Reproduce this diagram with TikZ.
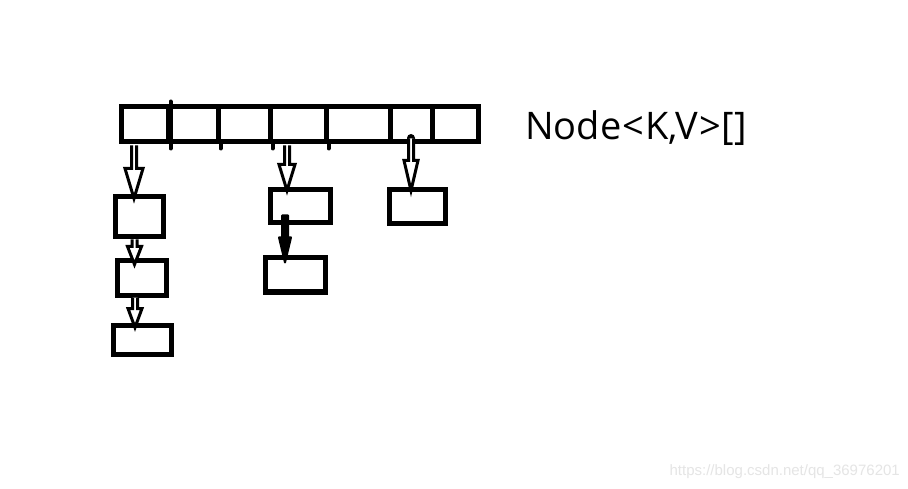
\documentclass[tikz,border=0pt]{standalone}
\usepackage{fontspec}
\setmainfont{Open Sans}
\newfontfamily\wmfont{Liberation Sans}
\usetikzlibrary{calc}
\begin{document}
\begin{tikzpicture}[x=1pt,y=-1pt,
  cell/.style={draw,line width=5pt,inner sep=0pt,minimum height=35pt},
  box/.style={draw,line width=5pt,inner sep=0pt},
  harrow/.style 2 args={draw,line width=3pt,fill=white,line join=miter,
    to path={let \p1=(\tikztostart),\p2=(\tikztotarget) in
      (\x1-2.5pt,\y1) -- (\x1-2.5pt,\y2+#1) -- (\x1-#2,\y2+#1) -- (\x1,\y2)
      -- (\x1+#2,\y2+#1) -- (\x1+2.5pt,\y2+#1) -- (\x1+2.5pt,\y1)}},
  farrow/.style 2 args={draw,line width=2pt,fill=black,line join=round,
    to path={let \p1=(\tikztostart),\p2=(\tikztotarget) in
      (\x1-3pt,\y1) -- (\x1-3pt,\y2+#1) -- (\x1-#2,\y2+#1) -- (\x1,\y2)
      -- (\x1+#2,\y2+#1) -- (\x1+3pt,\y2+#1) -- (\x1+3pt,\y1) -- cycle}},
  tick/.style={line width=4pt,line cap=round}
]
\useasboundingbox[fill=white] (0,0) rectangle (908,489);
% array cells
\node[cell,minimum width=47pt] (c1) at (144.5,124.5) {};
\node[cell,minimum width=50pt] (c2) at (193,124.5) {};
\node[cell,minimum width=52pt] (c3) at (244,124.5) {};
\node[cell,minimum width=56pt] (c4) at (298,124.5) {};
\node[cell,minimum width=64pt] (c5) at (358,124.5) {};
\node[cell,minimum width=42pt] (c6) at (411,124.5) {};
\node[cell,minimum width=46pt] (c7) at (455,124.5) {};
% divider overshoots
\draw[tick] (c1.north east) ++(0,-3) -- (c1.south east) -- ++(0,4);
\draw[tick] (c2.south east) -- ++(0,4);
\draw[tick] (c3.south east) -- ++(0,4);
\draw[tick] (c4.south east) -- ++(0,4);
% buckets
\node[box,minimum width=48pt,minimum height=40pt] (b1) at (139,217) {};
\node[box,minimum width=49pt,minimum height=34pt] (b2) at (141.5,278) {};
\node[box,minimum width=58pt,minimum height=29pt] (b3) at (142,339.5) {};
\node[box,minimum width=60pt,minimum height=33pt] (b4) at (300,206.5) {};
\node[box,minimum width=60pt,minimum height=34pt] (b5) at (295,275) {};
\node[box,minimum width=56pt,minimum height=34pt] (b6) at (417,207) {};
% arrows
\draw[harrow={30pt}{9pt}] ([xshift=-10.5pt,yshift=-1pt]c1.south) to ([yshift=-4pt]b1.north);
\draw[harrow={26pt}{8pt}] ([xshift=-11pt,yshift=-1pt]c4.south) to ([yshift=-3pt]b4.north);
\fill (411,138) circle (4pt);
\draw[harrow={30pt}{7pt}] ([yshift=6pt]c6.south) to ([yshift=-3pt]b6.north);
\draw[harrow={18pt}{7pt}] ([xshift=-4.5pt]b1.south) to ([yshift=-6pt]b2.north);
\draw[harrow={19pt}{7pt}] ([xshift=-6.5pt]b2.south) to ([yshift=-5pt]b3.north);
\draw[farrow={25pt}{6pt}] ([xshift=-15pt,yshift=10pt]b4.south) to ([yshift=-7pt]b5.north);
% label
\node[anchor=base west,inner sep=0pt,font=\fontsize{38}{40}\selectfont] (lbl) at (525,140) {Node\kern1pt<\kern1pt K,V\kern1pt>\kern1pt[]};
\node[anchor=base east,inner sep=0pt,text=black!10,font=\wmfont\fontsize{15}{16}\selectfont] (wm) at (900,475) {https://blog.csdn.net/qq\_36976201};
\end{tikzpicture}
\end{document}
